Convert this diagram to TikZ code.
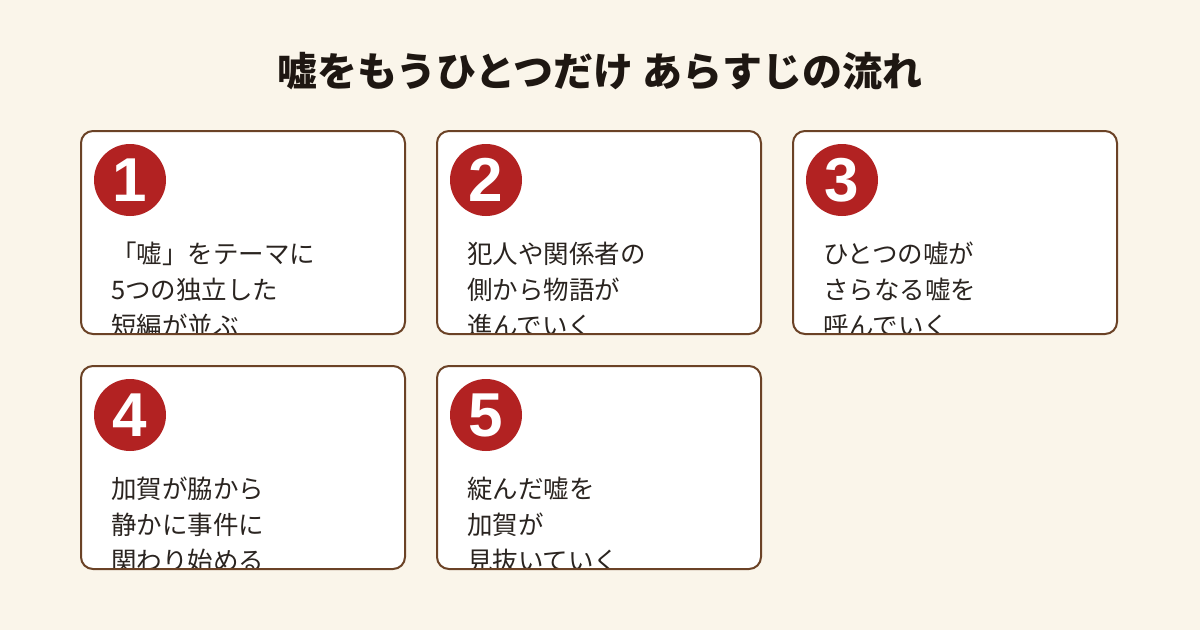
\documentclass[tikz,border=0pt]{standalone}
\usepackage{fontspec}
\setmainfont{Noto Sans CJK JP}
\newfontfamily\numfont{Liberation Sans}
\usepackage{xcolor}
\definecolor{bgcream}{HTML}{FAF5EA}
\definecolor{cardline}{HTML}{6B4226}
\definecolor{badgered}{HTML}{B22222}
\definecolor{bodytext}{HTML}{2A2420}
\definecolor{titletext}{HTML}{1E1712}

\begin{document}
\begin{tikzpicture}[x=1pt,y=-1pt,
    card/.style={draw=cardline,line width=2pt,rounded corners=12pt},
    badge/.style={circle,fill=badgered,minimum size=72pt,inner sep=0pt,text=white,font=\numfont\fontsize{62}{62}\selectfont\bfseries},
    body/.style={anchor=north west,inner sep=0pt,align=left,text=bodytext,font=\fontsize{25.5}{36}\selectfont}]
    \fill[bgcream] (0,0) rectangle (1200,630);
    \node[font=\fontsize{40}{40}\selectfont\bfseries,text=titletext] (title) at (600,71) {嘘をもうひとつだけ あらすじの流れ};
    \foreach \n/\x/\y/\txt in {1/81/131/{「嘘」をテーマに\\5つの独立した\\短編が並ぶ},
        2/437/131/{犯人や関係者の\\側から物語が\\進んでいく},
        3/793/131/{ひとつの嘘が\\さらなる嘘を\\呼んでいく},
        4/81/366/{加賀が脇から\\静かに事件に\\関わり始める},
        5/437/366/{綻んだ嘘を\\加賀が\\見抜いていく}}{
        \begin{scope}
            \clip[rounded corners=12pt] (\x,\y) rectangle ++(324,203);
            \fill[white] (\x,\y) rectangle ++(324,203);
            \node[body] (txt\n) at (\x+30,\y+111) {\txt};
        \end{scope}
        \draw[card] (\x,\y) rectangle ++(324,203);
        \node[badge] (num\n) at (\x+49,\y+49) {\n};
    }
\end{tikzpicture}
\end{document}
